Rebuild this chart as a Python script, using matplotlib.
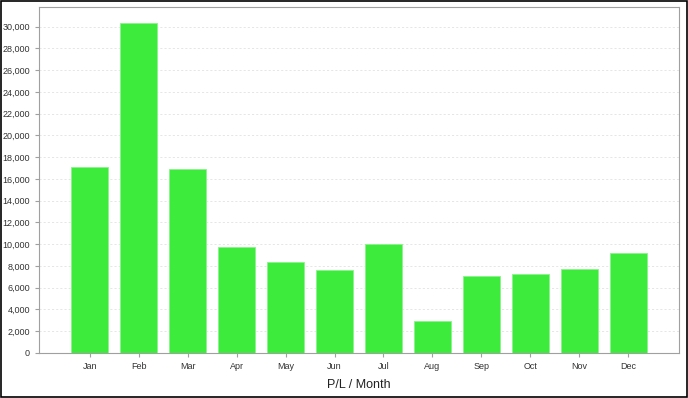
import matplotlib
matplotlib.use("Agg")
import matplotlib.pyplot as plt
from matplotlib.ticker import FuncFormatter, MultipleLocator
from matplotlib.patches import Rectangle

plt.rcParams["font.family"] = ["Liberation Sans", "DejaVu Sans"]

# Data
months = ["Jan", "Feb", "Mar", "Apr", "May", "Jun",
          "Jul", "Aug", "Sep", "Oct", "Nov", "Dec"]
pl_values = [17100, 30300, 16900, 9750, 8320, 7630,
             10020, 2960, 7080, 7260, 7700, 9220]

fig = plt.figure(figsize=(6.88, 3.98), dpi=100)
ax = fig.add_axes([0.0567, 0.1131, 0.9302, 0.8693])

x = list(range(len(months)))
ax.bar(x, pl_values, width=0.76, color="#3deb3d", edgecolor="#8af58a",
       linewidth=0.6, zorder=3)

ax.set_xlim(-1.04, len(months) - 1 + 1.04)
ax.set_ylim(0, 31800)
ax.set_xticks(x)
ax.set_xticklabels(months)
ax.yaxis.set_major_locator(MultipleLocator(2000))
ax.yaxis.set_major_formatter(FuncFormatter(lambda v, p: f"{int(v):,}"))

ax.grid(axis="y", color="#e2e2e2", linestyle=(0, (2.5, 2.5)), linewidth=0.6, zorder=0)
for s in ax.spines.values():
    s.set_color("#a0a0a0")
ax.tick_params(axis="both", labelsize=6.5, colors="#a0a0a0", labelcolor="#333333",
               length=3, width=0.8)
ax.set_xlabel("P/L / Month", fontsize=9, color="#222222", labelpad=6)

# outer border around the figure
fig.patches.append(Rectangle((0.001, 0.002), 0.997, 0.995, transform=fig.transFigure,
                             fill=False, edgecolor="black", linewidth=1.2))

fig.savefig("out.png", dpi=100)
